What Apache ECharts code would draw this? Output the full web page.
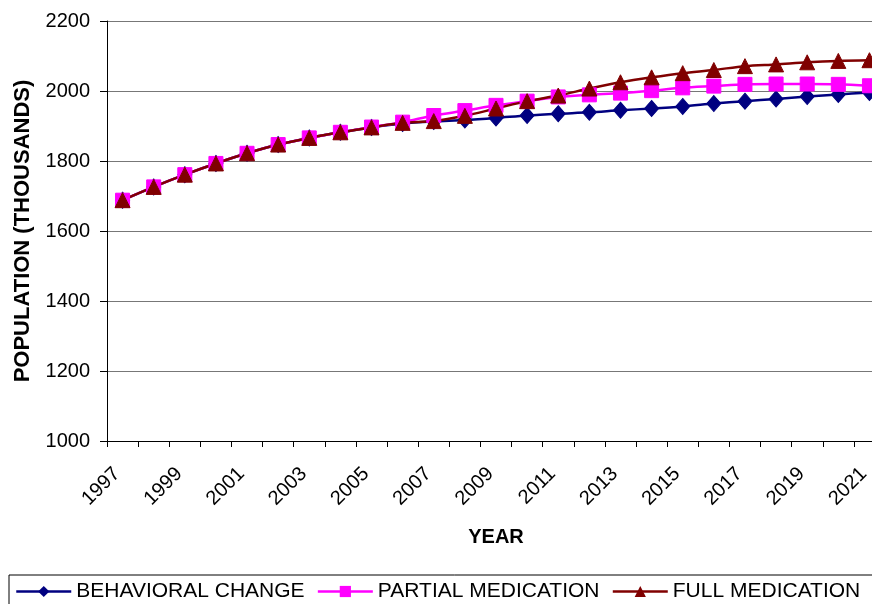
<!DOCTYPE html>
<html>
<head>
<meta charset="utf-8">
<script src="https://cdn.jsdelivr.net/npm/echarts@6/dist/echarts.min.js"></script>
<style>
html,body{margin:0;padding:0;background:#fff;overflow:hidden;width:872px;height:604px;}
#chart{width:1000px;height:604px;}
</style>
</head>
<body>
<div id="chart"></div>
<script>
var years = ['1997','1998','1999','2000','2001','2002','2003','2004','2005','2006','2007','2008','2009','2010','2011','2012','2013','2014','2015','2016','2017','2018','2019','2020','2021'];
var behavioralChange = [1688,1726,1761,1793,1822,1847,1866,1882,1896,1907,1913,1917,1923,1930,1935,1939,1945,1950,1956,1964,1971,1977,1984,1990,1996];
var partialMedication = [1688,1726,1761,1793,1822,1847,1866,1882,1897,1911,1930,1944,1959,1971,1983,1989,1994,2001,2009,2014,2019,2020,2020,2019,2015];
var fullMedication = [1688,1726,1761,1793,1822,1847,1866,1882,1896,1909,1914,1929,1950,1971,1987,2007,2025,2039,2051,2060,2071,2076,2082,2086,2088];
var yMin = 1000, yMax = 2200, yStep = 200;

var chart = echarts.init(document.getElementById('chart'), null, {renderer:'canvas'});
var font = 'Liberation Sans, Arial, sans-serif';
chart.setOption({
  animation: false,
  backgroundColor: '#ffffff',
  textStyle: {fontFamily: font},
  grid: {left: 107, top: 21, height: 420, right: 115, containLabel: false},
  legend: {
    left: 9, top: 575,
    padding: [6, 40, 10, 6],
    borderColor: '#000', borderWidth: 1,
    itemWidth: 55, itemHeight: 14, itemGap: 12,
    lineStyle: {width: 2.5},
    textStyle: {fontSize: 21, color: '#000', fontFamily: font},
    data: ['BEHAVIORAL CHANGE','PARTIAL MEDICATION','FULL MEDICATION']
  },
  xAxis: {
    type: 'category',
    data: years,
    boundaryGap: true,
    name: 'YEAR',
    nameLocation: 'middle',
    nameGap: 86,
    nameTextStyle: {fontSize: 20, fontWeight: 'bold', color: '#000', fontFamily: font},
    axisLine: {show: true, lineStyle: {color: '#000', width: 1}},
    axisTick: {show: true, interval: 0, length: 6, lineStyle: {color: '#000'}},
    axisLabel: {interval: 1, rotate: 45, fontSize: 20, color: '#000', margin: 24, padding: [0, 8, 0, 0], fontFamily: font},
    splitLine: {show: false}
  },
  yAxis: {
    type: 'value',
    min: yMin, max: yMax, interval: yStep,
    name: 'POPULATION (THOUSANDS)',
    nameLocation: 'middle',
    nameGap: 73,
    nameTextStyle: {fontSize: 22, fontWeight: 'bold', color: '#000', fontFamily: font},
    axisLine: {show: true, lineStyle: {color: '#000', width: 1}},
    axisTick: {show: true, length: 7, lineStyle: {color: '#000'}},
    axisLabel: {fontSize: 20, color: '#000', margin: 17, fontFamily: font, formatter: function (v) { return String(v); }},
    splitLine: {show: true, lineStyle: {color: '#777', width: 1}}
  },
  series: [
    {
      name: 'BEHAVIORAL CHANGE', type: 'line', data: behavioralChange,
      smooth: 0.3, symbol: 'diamond', symbolSize: [14, 16],
      lineStyle: {color: '#000080', width: 2.5},
      itemStyle: {color: '#000080', borderColor: '#000080'}
    },
    {
      name: 'PARTIAL MEDICATION', type: 'line', data: partialMedication,
      smooth: 0.3, symbol: 'rect', symbolSize: 14,
      lineStyle: {color: '#ff00ff', width: 2.5},
      itemStyle: {color: '#ff00ff', borderColor: '#ff00ff'}
    },
    {
      name: 'FULL MEDICATION', type: 'line', data: fullMedication,
      smooth: 0.3, symbol: 'triangle', symbolSize: [15, 15],
      lineStyle: {color: '#800000', width: 2.5},
      itemStyle: {color: '#800000', borderColor: '#800000'}
    }
  ]
});
</script>
</body>
</html>
